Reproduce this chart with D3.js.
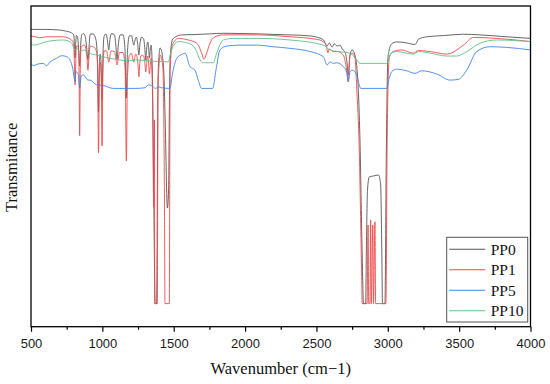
<!DOCTYPE html>
<html>
<head>
<meta charset="utf-8">
<script src="https://cdn.jsdelivr.net/npm/d3@7"></script>
<style>
  body { margin: 0; background: #fff; }
  svg { display: block; }
</style>
</head>
<body>
<svg id="chart"></svg>
<script>
// FTIR spectra: [wavenumber (cm-1), transmitance (%)]
const pp0 = [
  [500,92.7],[600,92.7],[700,92.5],[740,92.2],[780,91.7],[800,91.0],[804,88.0],[809,83.8],[813,88.0],
  [818,90.8],[826,90.5],[833,87.0],[841,81.3],[847,87.0],[855,91.0],[868,91.4],[880,90.5],[890,87.0],
  [899,83.2],[906,87.0],[915,91.2],[935,91.3],[955,89.5],[965,84.0],[973,66.9],[979,82.0],[985,85.0],
  [991,82.0],[998,70.7],[1004,84.0],[1012,90.5],[1025,91.3],[1035,89.5],[1045,86.3],[1053,89.5],
  [1065,91.4],[1085,91.0],[1095,87.5],[1103,83.2],[1111,87.5],[1125,91.0],[1145,91.0],[1158,87.0],
  [1168,71.3],[1176,86.0],[1190,90.7],[1205,90.7],[1213,89.0],[1220,87.8],[1227,89.0],[1238,90.3],
  [1248,88.0],[1256,84.7],[1263,88.0],[1275,90.3],[1290,89.6],[1298,86.5],[1304,83.2],[1310,86.5],
  [1318,88.8],[1324,87.0],[1330,83.8],[1336,86.5],[1342,87.8],[1350,80.0],[1360,41.1],[1370,7.2],
  [1380,7.2],[1390,76.9],[1398,85.0],[1405,86.9],[1412,86.5],[1420,84.7],[1432,78.0],[1440,64.5],
  [1456,37.0],[1464,42.6],[1470,70.0],[1475,83.2],[1490,89.4],[1510,90.3],[1560,91.0],[1650,91.1],
  [1750,91.3],[1850,91.5],[2000,91.4],[2100,91.3],[2300,91.0],[2450,90.7],[2500,90.3],[2550,89.4],
  [2575,87.5],[2590,88.5],[2610,87.2],[2625,88.2],[2645,87.5],[2665,87.8],[2680,86.6],[2700,85.7],
  [2715,82.0],[2723,78.5],[2735,84.7],[2750,86.3],[2770,84.7],[2790,76.9],[2805,58.2],[2820,23.9],
  [2830,7.2],[2845,7.2],[2850,23.9],[2858,42.6],[2870,46.7],[2900,47.0],[2935,47.3],[2950,44.2],
  [2958,23.9],[2963,7.2],[2980,7.2],[2990,55.1],[3000,83.2],[3010,86.3],[3027,88.2],[3062,88.8],
  [3132,88.5],[3170,88.1],[3190,88.0],[3205,88.8],[3214,89.6],[3273,90.4],[3400,90.8],[3530,91.2],
  [3646,91.0],[3800,90.5],[4000,89.9]
];
const pp1 = [
  [500,90.7],[540,90.3],[563,90.1],[610,90.4],[726,90.4],[760,90.0],[790,89.1],[800,87.8],[804,82.0],
  [809,75.4],[813,82.0],[818,87.5],[830,87.5],[836,82.0],[841,59.6],[846,82.0],[852,87.3],[875,87.8],
  [892,84.0],[899,80.0],[906,84.0],[915,87.5],[945,87.0],[960,85.5],[967,80.0],[973,54.3],[979,78.0],
  [985,82.5],[992,78.0],[998,56.4],[1004,80.0],[1012,86.0],[1030,86.0],[1038,84.0],[1045,82.5],
  [1052,84.0],[1060,86.0],[1085,85.8],[1095,83.5],[1103,81.6],[1111,83.5],[1120,85.5],[1145,85.5],
  [1160,80.0],[1168,51.7],[1176,78.0],[1190,84.7],[1205,85.2],[1213,83.5],[1220,82.5],[1227,84.0],
  [1235,85.0],[1249,82.0],[1256,77.9],[1262,82.0],[1275,84.7],[1290,84.4],[1298,82.0],[1304,79.4],
  [1310,82.0],[1318,84.4],[1325,81.5],[1330,78.8],[1336,81.5],[1342,83.8],[1352,70.7],[1360,37.3],
  [1365,64.5],[1367,7.2],[1385,7.2],[1390,73.8],[1398,82.0],[1405,84.7],[1415,83.5],[1425,80.0],
  [1435,39.5],[1439,7.2],[1469,7.2],[1475,80.0],[1490,87.8],[1532,89.9],[1602,89.4],[1661,88.4],
  [1696,85.3],[1712,83.4],[1731,85.3],[1754,88.4],[1789,90.4],[1847,91.0],[2081,91.0],[2315,90.4],
  [2502,89.6],[2548,88.9],[2570,87.5],[2580,85.4],[2590,86.6],[2618,85.8],[2645,85.8],[2688,84.7],
  [2712,80.0],[2723,76.4],[2735,84.7],[2751,85.3],[2770,84.1],[2782,74.8],[2800,55.1],[2815,20.8],
  [2821,7.2],[2855,7.2],[2862,31.7],[2866,7.2],[2875,7.2],[2880,33.3],[2885,7.2],[2895,31.7],
  [2900,7.2],[2910,32.7],[2915,7.2],[2987,7.2],[2995,55.1],[3005,80.0],[3011,84.2],[3039,85.8],
  [3097,86.3],[3179,85.3],[3214,86.1],[3296,85.8],[3413,85.0],[3530,87.8],[3600,90.2],[3763,89.9],
  [4000,88.9]
];
const pp5 = [
  [500,82.1],[516,81.4],[540,81.8],[586,82.1],[610,81.4],[633,82.5],[680,83.7],[715,84.5],[750,84.2],
  [773,83.2],[792,80.6],[809,76.4],[815,79.5],[831,78.7],[841,74.4],[852,78.2],[867,78.5],[899,76.9],
  [913,76.9],[960,75.4],[1007,75.2],[1077,74.3],[1159,74.3],[1229,74.3],[1299,74.5],[1322,75.4],
  [1346,75.2],[1372,74.3],[1392,74.8],[1416,74.5],[1474,74.3],[1490,78.5],[1521,83.7],[1556,84.9],
  [1579,85.3],[1614,81.1],[1649,80.0],[1672,76.9],[1696,74.3],[1773,74.3],[1796,80.0],[1824,86.3],
  [1871,87.5],[1964,87.8],[2081,87.8],[2198,87.3],[2315,86.8],[2455,85.8],[2548,84.2],[2576,81.6],
  [2595,82.6],[2618,82.1],[2642,82.3],[2688,81.1],[2712,79.4],[2723,76.4],[2735,79.4],[2751,80.0],
  [2782,78.5],[2800,75.4],[2810,74.3],[2992,74.3],[3010,77.5],[3027,79.5],[3062,80.3],[3132,79.8],
  [3191,79.0],[3237,79.8],[3343,78.8],[3436,76.9],[3494,77.1],[3553,80.0],[3623,85.8],[3716,87.3],
  [3832,87.1],[4000,86.3]
];
const pp10 = [
  [500,88.4],[516,87.8],[560,88.2],[610,88.9],[726,89.4],[760,89.1],[785,88.4],[809,86.3],[820,86.8],
  [841,85.7],[870,86.3],[899,85.4],[960,84.7],[1054,83.7],[1194,82.9],[1229,83.2],[1322,82.9],
  [1462,82.6],[1475,84.7],[1490,86.9],[1532,88.9],[1602,88.4],[1649,86.8],[1661,85.8],[1684,83.2],
  [1707,82.3],[1777,82.3],[1801,85.3],[1847,89.4],[1918,89.9],[2081,89.9],[2315,89.4],[2548,87.8],
  [2595,86.3],[2650,85.8],[2735,85.3],[2782,83.2],[2805,82.1],[2992,82.1],[3025,85.3],[3062,85.8],
  [3179,85.0],[3214,85.8],[3296,85.3],[3413,84.4],[3483,84.4],[3553,85.8],[3646,88.4],[3763,89.4],
  [4000,88.9]
];

const seriesNames = ["PP0", "PP1", "PP5", "PP10"];
const seriesData = [pp0, pp1, pp5, pp10];
const seriesColors = ["#555555", "#f24848", "#3f86e8", "#5cc28a"];
const xMajorTicks = [500, 1000, 1500, 2000, 2500, 3000, 3500, 4000];
const xMinorTicks = [750, 1250, 1750, 2250, 2750, 3250, 3750];

const W = 550, H = 384;
const margin = {top: 6, right: 19.5, bottom: 57.3, left: 31},
    width = W - margin.left - margin.right,
    height = H - margin.top - margin.bottom;

const serif = "'Liberation Serif', 'Times New Roman', serif";
const sans = "'Liberation Sans', Arial, sans-serif";

const x = d3.scaleLinear().domain([500, 4000]).range([0, width]);
const y = d3.scaleLinear().domain([0, 100]).range([height, 0]);

const svg = d3.select("#chart")
    .attr("width", W)
    .attr("height", H)
  .append("g")
    .attr("transform", "translate(" + margin.left + "," + margin.top + ")");

svg.append("defs").append("clipPath")
    .attr("id", "clip")
  .append("rect")
    .attr("width", width)
    .attr("height", height);

const line = d3.line()
    .curve(d3.curveMonotoneX)
    .x(d => x(d[0]))
    .y(d => y(d[1]));

const body = svg.append("g").attr("clip-path", "url(#clip)");

seriesData.forEach((s, i) => {
  body.append("path")
      .datum(s)
      .attr("fill", "none")
      .attr("stroke", seriesColors[i])
      .attr("stroke-width", 0.9)
      .attr("stroke-linejoin", "round")
      .attr("d", line);
});

// bottom axis: major ticks with labels, minor ticks without
const xAxis = svg.append("g")
    .attr("transform", "translate(0," + height + ")")
    .call(d3.axisBottom(x).tickValues(xMajorTicks).tickSize(5).tickPadding(7.5).tickFormat(d3.format("d")));
xAxis.select(".domain").remove();
xAxis.selectAll("line").attr("stroke", "#000").attr("stroke-width", 1.2);
xAxis.selectAll("text")
    .attr("fill", "#1a1a1a")
    .style("font-family", sans)
    .style("font-size", "13px");

const xMinor = svg.append("g")
    .attr("transform", "translate(0," + height + ")")
    .call(d3.axisBottom(x).tickValues(xMinorTicks).tickSize(3).tickFormat(""));
xMinor.select(".domain").remove();
xMinor.selectAll("line").attr("stroke", "#000").attr("stroke-width", 1.2);

// frame
svg.append("rect")
    .attr("width", width)
    .attr("height", height)
    .attr("fill", "none")
    .attr("stroke", "#000")
    .attr("stroke-width", 1.3);

// axis titles
svg.append("text")
    .attr("x", width / 2)
    .attr("y", height + 47.5)
    .attr("text-anchor", "middle")
    .style("font-family", serif)
    .style("font-size", "16.5px")
    .attr("fill", "#111")
    .text("Wavenumber (cm\u22121)");

svg.append("text")
    .attr("transform", "translate(" + (16.5 - margin.left) + "," + (height / 2 + 1) + ") rotate(-90)")
    .attr("text-anchor", "middle")
    .style("font-family", serif)
    .style("font-size", "16.5px")
    .attr("fill", "#111")
    .text("Transmitance");

// legend
const legend = svg.append("g")
    .attr("transform", "translate(" + (446.7 - margin.left) + "," + (237.3 - margin.top) + ")");

legend.append("rect")
    .attr("width", 81)
    .attr("height", 84.7)
    .attr("fill", "#fff")
    .attr("stroke", "#555")
    .attr("stroke-width", 1);

seriesNames.forEach((name, i) => {
  const row = legend.append("g").attr("transform", "translate(0," + (12 + i * 20.5) + ")");
  row.append("line")
      .attr("x1", 2.5).attr("x2", 38.5)
      .attr("stroke", seriesColors[i])
      .attr("stroke-width", 1.1);
  row.append("text")
      .attr("x", 44)
      .attr("y", 5.2)
      .style("font-family", serif)
      .style("font-size", "15.5px")
      .attr("fill", "#111")
      .text(name);
});
</script>
</body>
</html>
